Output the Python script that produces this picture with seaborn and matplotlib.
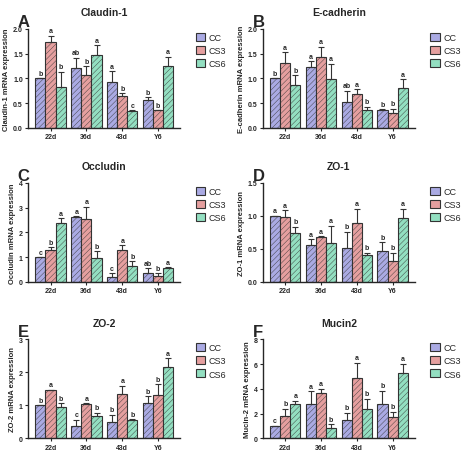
import numpy as np
import pandas as pd
import matplotlib
matplotlib.use("Agg")
import matplotlib.pyplot as plt
import seaborn as sns

groups = ["CC", "CS3", "CS6"]
days = ["22d", "36d", "43d", "Y6"]
colors = ["#a0a0ec", "#f09494", "#86ecc4"]

# значення по кожному гену: [CC, CS3, CS6] для 22d, 36d, 43d, Y6
claudin_mean = [[1.0, 1.74, 0.83], [1.2, 1.06, 1.47], [0.92, 0.65, 0.33], [0.57, 0.35, 1.25]]
claudin_err = [[0.0, 0.12, 0.3], [0.22, 0.18, 0.2], [0.22, 0.05, 0.02], [0.05, 0.01, 0.19]]
claudin_let = [["b", "a", "b"], ["ab", "b", "a"], ["a", "b", "c"], ["b", "b", "a"]]

ecad_mean = [[1.0, 1.32, 0.86], [1.23, 1.44, 0.98], [0.53, 0.68, 0.36], [0.37, 0.29, 0.81]]
ecad_err = [[0.0, 0.21, 0.2], [0.12, 0.2, 0.32], [0.22, 0.1, 0.07], [0.01, 0.1, 0.17]]
ecad_let = [["b", "a", "b"], ["a", "a", "a"], ["ab", "a", "b"], ["b", "b", "a"]]

occl_mean = [[1.0, 1.28, 2.38], [2.62, 2.54, 0.95], [0.18, 1.29, 0.63], [0.38, 0.22, 0.55]]
occl_err = [[0.0, 0.13, 0.2], [0.04, 0.5, 0.3], [0.17, 0.2, 0.21], [0.17, 0.12, 0.05]]
occl_let = [["c", "b", "a"], ["a", "a", "b"], ["c", "a", "b"], ["ab", "b", "a"]]

zo1_mean = [[1.0, 0.99, 0.74], [0.56, 0.68, 0.59], [0.52, 0.9, 0.41], [0.47, 0.32, 0.97]]
zo1_err = [[0.0, 0.1, 0.1], [0.09, 0.01, 0.26], [0.24, 0.21, 0.03], [0.13, 0.12, 0.14]]
zo1_let = [["a", "a", "b"], ["a", "a", "a"], ["b", "a", "b"], ["b", "b", "a"]]

zo2_mean = [[1.0, 1.45, 0.96], [0.37, 1.04, 0.68], [0.5, 1.35, 0.55], [1.06, 1.32, 2.15]]
zo2_err = [[0.0, 0.02, 0.1], [0.2, 0.02, 0.1], [0.22, 0.25, 0.03], [0.22, 0.32, 0.28]]
zo2_let = [["b", "a", "b"], ["c", "a", "b"], ["b", "a", "b"], ["b", "b", "a"]]

muc_mean = [[1.0, 1.8, 2.75], [2.75, 3.7, 0.8], [1.45, 4.85, 2.35], [2.8, 1.7, 5.25]]
muc_err = [[0.0, 0.6, 0.3], [1.05, 0.3, 0.35], [0.6, 1.25, 0.85], [1.05, 0.45, 0.8]]
muc_let = [["c", "b", "a"], ["a", "a", "b"], ["b", "a", "b"], ["b", "b", "a"]]

panels = [
    ("A", "Claudin-1", "Claudin-1 mRNA expression", claudin_mean, claudin_err, claudin_let, 2.0, 0.5, "%.1f"),
    ("B", "E-cadherin", "E-cadherin mRNA expression", ecad_mean, ecad_err, ecad_let, 2.0, 0.5, "%.1f"),
    ("C", "Occludin", "Occludin mRNA expression", occl_mean, occl_err, occl_let, 4, 1, "%d"),
    ("D", "ZO-1", "ZO-1 mRNA expression", zo1_mean, zo1_err, zo1_let, 1.5, 0.5, "%.1f"),
    ("E", "ZO-2", "ZO-2 mRNA expression", zo2_mean, zo2_err, zo2_let, 3, 1, "%d"),
    ("F", "Mucin2", "Mucin-2 mRNA expression", muc_mean, muc_err, muc_let, 8, 2, "%d"),
]

sns.set_style("ticks")
plt.rcParams["font.family"] = ["Liberation Sans", "DejaVu Sans"]
plt.rcParams["hatch.color"] = "#777777"
plt.rcParams["hatch.linewidth"] = 0.3
fig = plt.figure(figsize=(4.74, 4.6), dpi=100)

lefts = [0.06, 0.555]
bottoms = [0.72, 0.385, 0.045]

for i, (lab, title, ylab, mean, err, let, ymax, step, fmt) in enumerate(panels):
    ax = fig.add_axes([lefts[i % 2], bottoms[i // 2], 0.32, 0.215])
    df = pd.DataFrame(
        [(d, g, mean[j][k], err[j][k], let[j][k])
         for j, d in enumerate(days) for k, g in enumerate(groups)],
        columns=["day", "group", "val", "err", "let"],
    )
    sns.barplot(data=df, x="day", y="val", hue="group", palette=colors,
                edgecolor="#333333", linewidth=0.8, width=0.85, ax=ax,
                errorbar=None)
    for k, g in enumerate(groups):
        cont = ax.containers[k]
        sub = df[df["group"] == g]
        for bar, (_, r) in zip(cont, sub.iterrows()):
            bar.set_hatch("//////")
            x = bar.get_x() + bar.get_width() / 2
            ax.errorbar(x, r["val"], yerr=[[0], [r["err"]]], color="#333333",
                        capsize=2, elinewidth=0.8, capthick=0.8)
            ax.text(x, r["val"] + r["err"] + ymax * 0.015, r["let"],
                    ha="center", va="bottom", fontsize=5, fontweight="bold")
    ax.set_ylim(0, ymax)
    ax.set_yticks(np.arange(0, ymax + step / 2, step))
    ax.yaxis.set_major_formatter(matplotlib.ticker.FormatStrFormatter(fmt))
    ax.set_xlabel("")
    ax.set_ylabel(ylab, fontsize=5.5, fontweight="bold", labelpad=2)
    ax.set_title(title, fontsize=7.5, fontweight="bold", pad=10)
    ax.tick_params(labelsize=5, width=0.8, length=2.5, pad=1.5)
    for t in ax.get_xticklabels() + ax.get_yticklabels():
        t.set_fontweight("bold")
    for s in ["left", "bottom"]:
        ax.spines[s].set_linewidth(1)
    sns.despine(ax=ax)
    ax.text(-0.07, 1.0, lab, transform=ax.transAxes, fontsize=12,
            fontweight="bold", va="bottom", ha="left")
    ax.legend(loc="upper left", bbox_to_anchor=(1.08, 1.0), frameon=False,
              fontsize=6.5, handlelength=1.0, handleheight=1.0,
              labelspacing=0.45, handletextpad=0.4, borderaxespad=0)

fig.savefig("out.png", dpi=100)
